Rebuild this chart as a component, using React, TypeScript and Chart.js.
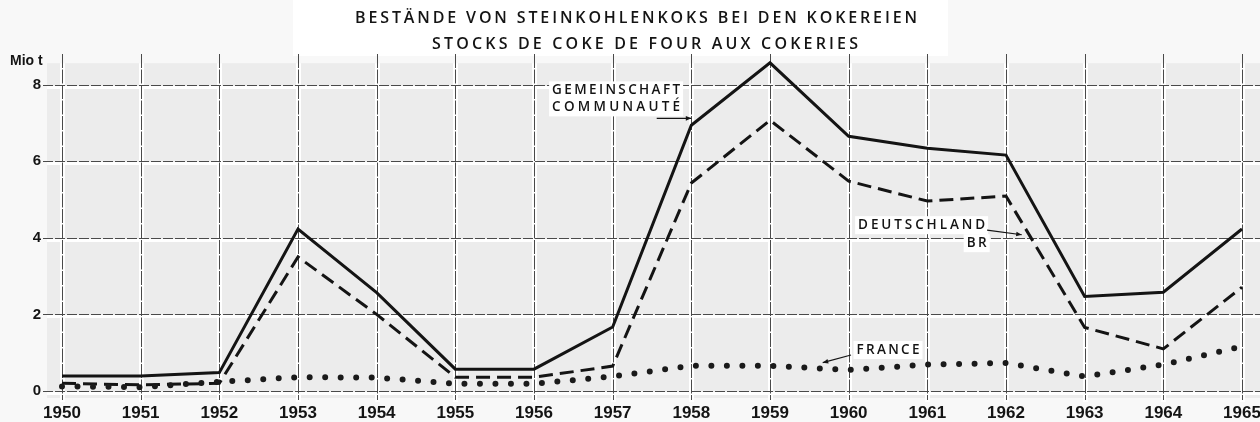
import React, { useEffect, useRef } from "react";
import { Chart, registerables } from "chart.js";

Chart.register(...registerables);

// ---- data ----
const years = [1950, 1951, 1952, 1953, 1954, 1955, 1956, 1957, 1958, 1959, 1960, 1961, 1962, 1963, 1964, 1965];
const gemeinschaft = [0.39, 0.39, 0.48, 4.23, 2.57, 0.57, 0.57, 1.67, 6.94, 8.57, 6.65, 6.34, 6.16, 2.47, 2.58, 4.23];
const deutschland = [0.2, 0.16, 0.2, 3.5, 2.0, 0.36, 0.36, 0.65, 5.43, 7.07, 5.48, 4.96, 5.09, 1.66, 1.1, 2.71];
const france = [0.12, 0.1, 0.24, 0.36, 0.35, 0.19, 0.19, 0.38, 0.66, 0.66, 0.55, 0.69, 0.73, 0.38, 0.69, 1.16];
const yTicks = [0, 2, 4, 6, 8];
const titleLines = [
  "BESTÄNDE VON STEINKOHLENKOKS BEI DEN KOKEREIEN",
  "STOCKS DE COKE DE FOUR AUX COKERIES",
];
const unitLabel = "Mio t";

// annotation anchors in data units (year, value)
const notes = [
  { lines: ["GEMEINSCHAFT", "COMMUNAUTÉ"], at: [1956.23, 7.85], width: 128, arrow: [[1957.56, 7.12], [1958.0, 7.12]] },
  { lines: ["DEUTSCHLAND"], at: [1960.12, 4.33], width: 127, arrow: [[1961.76, 4.2], [1962.2, 4.08]] },
  { lines: ["BR"], at: [1961.5, 3.86], width: 20, arrow: null },
  { lines: ["FRANCE"], at: [1960.1, 1.07], width: 63, arrow: [[1960.03, 0.94], [1959.67, 0.74]] },
];

const INK = "#141414";
const NOTE_FONT = "600 13.5px 'Open Sans', 'DejaVu Sans', sans-serif";
const TITLE_FONT = "600 16px 'Open Sans', 'DejaVu Sans', sans-serif";

function spacedText(ctx: CanvasRenderingContext2D, text: string, left: number, cy: number, targetW: number) {
  (ctx as any).letterSpacing = "0px";
  const w0 = ctx.measureText(text).width;
  const sp = text.length > 1 ? (targetW - w0) / (text.length - 1) : 0;
  (ctx as any).letterSpacing = sp + "px";
  ctx.textAlign = "left";
  ctx.textBaseline = "middle";
  ctx.fillText(text, left, cy);
  (ctx as any).letterSpacing = "0px";
}

const backdrop = {
  id: "backdrop",
  beforeDraw(chart: any) {
    const { ctx, chartArea, scales, width, height } = chart;
    const x = scales.x;
    const y = scales.y;
    ctx.save();
    ctx.fillStyle = "#f8f8f8";
    ctx.fillRect(0, 0, width, height);
    ctx.fillStyle = "#ffffff";
    ctx.fillRect(293, 0, 655, 56);

    const top = y.getPixelForValue(8.56);
    const zeroY = y.getPixelForValue(0);
    const bottom = zeroY + 7;
    const left = chartArea.left - 15;
    ctx.fillStyle = "#ececec";
    ctx.fillRect(left, top, width - left, bottom - top);

    // white halos
    ctx.fillStyle = "#ffffff";
    for (const yr of years) {
      const px = Math.round(x.getPixelForValue(yr));
      ctx.fillRect(px - 2, top, 5, bottom - top + 4);
    }
    for (const v of yTicks) {
      const py = Math.round(y.getPixelForValue(v));
      ctx.fillRect(left, py + 1, width - left, 3);
    }

    // dark lines
    ctx.strokeStyle = "#4a4a4a";
    ctx.lineWidth = 1;
    ctx.setLineDash([10, 2]);
    for (const v of yTicks) {
      const py = Math.round(y.getPixelForValue(v)) + 0.5;
      ctx.beginPath();
      ctx.moveTo(chartArea.left - 19, py);
      ctx.lineTo(width, py);
      ctx.stroke();
    }
    ctx.setLineDash([14, 1.5]);
    for (const yr of years) {
      const px = Math.round(x.getPixelForValue(yr)) + 0.5;
      ctx.beginPath();
      ctx.moveTo(px, chartArea.top);
      ctx.lineTo(px, zeroY + 9);
      ctx.stroke();
    }
    ctx.setLineDash([]);

    // title
    ctx.fillStyle = INK;
    ctx.font = TITLE_FONT;
    spacedText(ctx, titleLines[0], 355, 18, 562);
    spacedText(ctx, titleLines[1], 432, 44, 426);

    // unit label
    ctx.font = "bold 14px 'Liberation Sans', Arial, sans-serif";
    ctx.textAlign = "left";
    ctx.textBaseline = "middle";
    ctx.fillText(unitLabel, 10, 61);
    ctx.restore();
  },
  afterDatasetsDraw(chart: any) {
    const { ctx, scales } = chart;
    const x = scales.x;
    const y = scales.y;
    ctx.save();
    ctx.font = NOTE_FONT;
    for (const n of notes) {
      const left = x.getPixelForValue(n.at[0]);
      const cy = y.getPixelForValue(n.at[1]);
      const lineH = 17;
      ctx.fillStyle = "#ffffff";
      ctx.fillRect(left - 3, cy - 9, n.width + 6, lineH * n.lines.length + 1);
      ctx.fillStyle = INK;
      n.lines.forEach((t, i) => spacedText(ctx, t, left, cy + i * lineH, n.width));
      if (n.arrow) {
        const x1 = x.getPixelForValue(n.arrow[0][0]);
        const y1 = y.getPixelForValue(n.arrow[0][1]);
        const x2 = x.getPixelForValue(n.arrow[1][0]);
        const y2 = y.getPixelForValue(n.arrow[1][1]);
        ctx.strokeStyle = INK;
        ctx.lineWidth = 1.2;
        ctx.beginPath();
        ctx.moveTo(x1, y1);
        ctx.lineTo(x2, y2);
        ctx.stroke();
        const a = Math.atan2(y2 - y1, x2 - x1);
        const L = 6;
        ctx.beginPath();
        ctx.moveTo(x2, y2);
        ctx.lineTo(x2 - L * Math.cos(a - 0.4), y2 - L * Math.sin(a - 0.4));
        ctx.lineTo(x2 - L * Math.cos(a + 0.4), y2 - L * Math.sin(a + 0.4));
        ctx.closePath();
        ctx.fill();
      }
    }
    ctx.restore();
  },
};

export default function App() {
  const ref = useRef<HTMLCanvasElement | null>(null);
  useEffect(() => {
    document.body.style.margin = "0";
    const canvas = ref.current;
    if (!canvas) return;
    const pts = (vals: number[]) => years.map((yr, i) => ({ x: yr, y: vals[i] }));
    const chart = new Chart(canvas, {
      type: "line",
      data: {
        datasets: [
          {
            label: "France",
            data: pts(france),
            borderColor: "#1a1a1a",
            borderWidth: 6,
            borderDash: [0, 15.5],
            borderCapStyle: "round",
            pointRadius: 0,
            tension: 0,
            clip: false,
          },
          {
            label: "Deutschland BR",
            data: pts(deutschland),
            borderColor: INK,
            borderWidth: 3,
            borderDash: [14, 7],
            pointRadius: 0,
            tension: 0,
            clip: false,
          },
          {
            label: "Gemeinschaft",
            data: pts(gemeinschaft),
            borderColor: INK,
            borderWidth: 3,
            pointRadius: 0,
            tension: 0,
            clip: false,
          },
        ],
      } as any,
      options: {
        responsive: false,
        animation: false,
        layout: { padding: { top: 54, right: 18, left: 0, bottom: 0 } },
        plugins: { legend: { display: false }, tooltip: { enabled: false }, title: { display: false } },
        scales: {
          x: {
            type: "linear",
            min: 1950,
            max: 1965,
            grid: { display: false, drawTicks: false },
            border: { display: false },
            ticks: {
              stepSize: 1,
              autoSkip: false,
              maxRotation: 0,
              padding: 12,
              color: INK,
              font: { family: "'Liberation Sans', Arial, sans-serif", size: 17, weight: "bold" },
              callback: (v: any) => String(v),
            },
            afterFit: (s: any) => {
              s.height = 31;
              s.paddingLeft = 0;
              s.paddingRight = 0;
            },
          },
          y: {
            type: "linear",
            min: 0,
            max: 8.8,
            grid: { display: false, drawTicks: false },
            border: { display: false },
            ticks: {
              stepSize: 2,
              padding: 21,
              color: INK,
              font: { family: "'Liberation Sans', Arial, sans-serif", size: 15, weight: "bold" },
              callback: (v: any) => String(v),
            },
            afterBuildTicks: (s: any) => {
              s.ticks = s.ticks.filter((t: any) => yTicks.includes(t.value));
            },
            afterFit: (s: any) => {
              s.width = 62;
            },
          },
        },
      } as any,
      plugins: [backdrop],
    });
    return () => chart.destroy();
  }, []);
  return <canvas ref={ref} width={1260} height={422} style={{ display: "block" }} />;
}
